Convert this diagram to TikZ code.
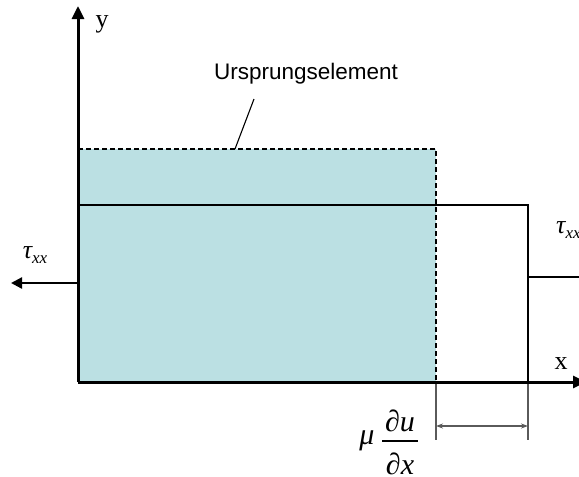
\documentclass[tikz,border=0pt]{standalone}
\usepackage{fontspec}
\setmainfont{Liberation Serif}
\newfontfamily\arialfont{Liberation Sans}
\usetikzlibrary{arrows.meta}
\definecolor{elemblue}{RGB}{187,224,227}
\definecolor{dimgray}{RGB}{90,90,90}
\tikzset{
  axis/.style={line width=3pt,-{Triangle[length=13pt,width=12pt]}},
  body/.style={line width=2.3pt},
  force/.style={line width=2.3pt,-{Triangle[length=11pt,width=11pt]}},
  dashedge/.style={line width=1.4pt,dash pattern=on 5pt off 3pt},
  dimline/.style={line width=1.1pt,draw=dimgray},
  dimarrow/.style={line width=1.1pt,draw=dimgray,{Stealth[length=7pt,width=5pt]}-{Stealth[length=7pt,width=5pt]}},
  lbl/.style={inner sep=0pt,font=\fontsize{26}{28}\selectfont},
  mlbl/.style={inner sep=0pt,font=\fontsize{30}{32}\selectfont\itshape},
}
\begin{document}
\begin{tikzpicture}[x=1pt,y=-1pt]
\useasboundingbox (0,0) rectangle (579,477);
% coordinates
\coordinate (O) at (78,382);
\coordinate (ytip) at (78,6);
\coordinate (xtip) at (586,382);
\coordinate (bTL) at (78,149);
\coordinate (bTR) at (436,149);
\coordinate (bBR) at (436,382);
\coordinate (sTL) at (78,205);
\coordinate (sTR) at (528,205);
\coordinate (sBR) at (528,382);
% blue element
\fill[elemblue] (bTL) rectangle (bBR);
\draw[dashedge] (bTL) -- (bTR) -- (bBR);
% deformed element
\draw[body] (sTL) -- (sTR) -- (sBR);
% axes
\draw[axis] (O) -- (ytip);
\draw[axis] (O) -- (xtip);
\node[lbl] (ylab) at (102,24) {y};
\node[lbl] (xlab) at (561,364) {x};
% forces
\coordinate (fL0) at (78,283);
\coordinate (fL1) at (11,283);
\coordinate (fR0) at (528,277);
\coordinate (fR1) at (590,277);
\draw[force] (fL0) -- (fL1);
\draw[force] (fR0) -- (fR1);
\node[inner sep=0pt] (tauL) at (35,255) {\fontsize{26}{28}\selectfont\itshape τ\raisebox{-5pt}{\fontsize{17}{18}\selectfont xx}};
\node[inner sep=0pt,anchor=west] (tauR) at (556,230) {\fontsize{26}{28}\selectfont\itshape τ\raisebox{-5pt}{\fontsize{17}{18}\selectfont xx}};
% label Ursprungselement
\node[inner sep=0pt,font=\arialfont\fontsize{22.5}{24}\selectfont] (urs) at (306,74) {Ursprungselement};
\coordinate (lead0) at (254,99);
\coordinate (lead1) at (235,149);
\draw[line width=1.1pt] (lead0) -- (lead1);
% dimension
\coordinate (d1a) at (436,384);
\coordinate (d1b) at (436,440);
\coordinate (d2a) at (528,384);
\coordinate (d2b) at (528,440);
\coordinate (da) at (436,426);
\coordinate (db) at (528,426);
\draw[dimline] (d1a) -- (d1b);
\draw[dimline] (d2a) -- (d2b);
\draw[dimarrow] (da) -- (db);
% mu du/dx
\node[mlbl] (mu) at (367,441) {μ};
\node[mlbl] (du) at (400,421) {∂u};
\node[mlbl] (dx) at (400,464) {∂x};
\coordinate (fb0) at (382,441);
\coordinate (fb1) at (418,441);
\draw[line width=1.2pt] (fb0) -- (fb1);
\end{tikzpicture}
\end{document}
